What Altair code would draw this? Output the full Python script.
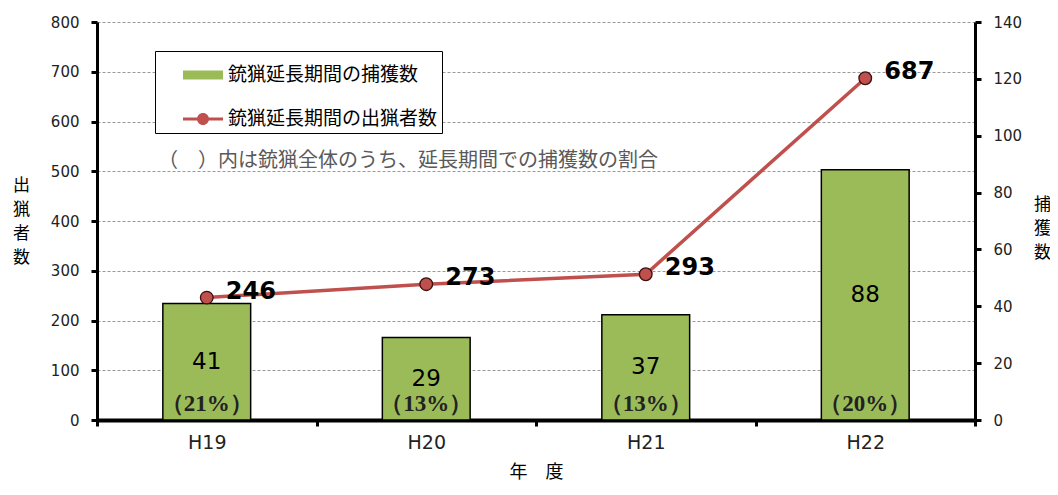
import altair as alt
import pandas as pd

years = ["H19", "H20", "H21", "H22"]
captures = [41, 29, 37, 88]
capture_pct = ["（21%）", "（13%）", "（13%）", "（20%）"]
hunters = [246, 273, 293, 687]
series_bar = "銃猟延長期間の捕獲数"
series_line = "銃猟延長期間の出猟者数"
note = "（　）内は銃猟全体のうち、延長期間での捕獲数の割合"
left_ticks = [0, 100, 200, 300, 400, 500, 600, 700, 800]
right_ticks = [0, 20, 40, 60, 80, 100, 120, 140]

df_bar = pd.DataFrame({"year": years, "captures": captures, "pct": capture_pct, "series": series_bar})
df_line = pd.DataFrame({"year": years, "hunters": hunters, "series": series_line})

CJK = "Noto Sans CJK JP"
GREEN = "#9BBB59"
RED = "#C0504D"

x_enc = alt.X(
    "year:N",
    scale=alt.Scale(domain=years, paddingInner=0, paddingOuter=0),
    axis=alt.Axis(
        title="年　度", tickBand="extent", labelAngle=0, labelFontSize=19,
        labelPadding=7, tickSize=6, grid=False, titleFont=CJK, titleFontSize=18,
        titleFontWeight="normal", titlePadding=11, domainWidth=4,
    ),
)

legend_shape = (
    "datum.value === '" + series_bar + "' ? 'M-1,-0.22H1V0.22H-1Z' : "
    "'M-1,-0.08H1V0.08H-1Z M-0.3,0A0.3,0.3 0 1 1 0.3,0A0.3,0.3 0 1 1 -0.3,0Z'"
)

color_enc = alt.Color(
    "series:N",
    scale=alt.Scale(domain=[series_bar, series_line], range=[GREEN, RED]),
    legend=alt.Legend(
        title=None, orient="none", legendX=58, legendY=29, direction="vertical",
        fillColor="white", strokeColor="black", padding=4, symbolOffset=24,
        symbolSize=1600, labelFontSize=19, labelFont=CJK, labelOffset=5,
        rowPadding=14, labelLimit=400, labelColor="black",
        symbolType={"expr": legend_shape}, symbolStrokeWidth=0, symbolOpacity=1,
    ),
)

right_axis = alt.Axis(
    orient="right", values=right_ticks, grid=False, title=["捕", "獲", "数"],
    titleAngle=0, titleX=67, titleY=182, titleAlign="center", titleBaseline="middle",
    titleLineHeight=24, titleFont=CJK, titleFontSize=17, titleFontWeight="normal",
    labelPadding=12, tickSize=6,
)
left_axis = alt.Axis(
    orient="left", values=left_ticks, grid=True, title=["出", "猟", "者", "数"],
    titleAngle=0, titleX=-76, titleY=163, titleAlign="center", titleBaseline="middle",
    titleLineHeight=24, titleFont=CJK, titleFontSize=17, titleFontWeight="normal",
    labelPadding=12, tickSize=6,
)
y_bar_scale = alt.Scale(domain=[0, 140], nice=False)
y_line_scale = alt.Scale(domain=[0, 800], nice=False)

bars = alt.Chart(df_bar).mark_bar(
    width={"band": 0.4}, stroke="black", strokeWidth=1.5
).encode(
    x=x_enc,
    y=alt.Y("captures:Q", scale=y_bar_scale, axis=right_axis),
    color=color_enc,
)
bar_text = alt.Chart(df_bar).transform_calculate(
    mid="datum.captures / 2"
).mark_text(font="DejaVu Sans", fontSize=23, color="black", baseline="middle").encode(
    x=x_enc,
    y=alt.Y("mid:Q", scale=y_bar_scale, axis=right_axis),
    text="captures:Q",
)
pct_text = alt.Chart(df_bar).mark_text(
    font="Liberation Serif", fontSize=23, fontWeight="bold", color="#222",
    baseline="middle", dy=-16,
).encode(
    x=x_enc,
    y=alt.Y(datum=0, type="quantitative", scale=y_bar_scale, axis=right_axis),
    text="pct:N",
)
bar_layer = alt.layer(bars, bar_text, pct_text)

line = alt.Chart(df_line).mark_line(strokeWidth=3.5).encode(
    x=x_enc,
    y=alt.Y("hunters:Q", scale=y_line_scale, axis=left_axis),
    color=color_enc,
)
points = alt.Chart(df_line).mark_circle(
    size=160, fill=RED, stroke="#3a1010", strokeWidth=1.3, opacity=1
).encode(
    x=x_enc,
    y=alt.Y("hunters:Q", scale=y_line_scale, axis=left_axis),
)
line_text = alt.Chart(df_line).mark_text(
    font="DejaVu Sans", fontSize=24, fontWeight="bold", color="black",
    align="left", baseline="middle", dx=19, dy=-6,
).encode(
    x=x_enc,
    y=alt.Y("hunters:Q", scale=y_line_scale, axis=left_axis),
    text="hunters:Q",
)
line_layer = alt.layer(line, points, line_text)

chart = alt.layer(bar_layer, line_layer).resolve_scale(
    y="independent"
).properties(
    width=878, height=398,
    autosize=alt.AutoSizeParams(type="none"),
    padding={"left": 89, "top": 14, "right": 75, "bottom": 65},
    title=alt.TitleParams(
        text=note, anchor="start", frame="group", dx=61, dy=160,
        font=CJK, fontSize=20, fontWeight="normal", color="#595959",
    ),
).configure_view(
    stroke=None
).configure_axis(
    domainColor="black", domainWidth=3, tickColor="black", tickWidth=3,
    labelFont="DejaVu Sans", labelFontSize=15, labelColor="#222",
    gridColor="#999", gridDash=[3, 2], gridWidth=1,
)

chart.save("out.html", embed_options={"renderer": "svg", "actions": False})
